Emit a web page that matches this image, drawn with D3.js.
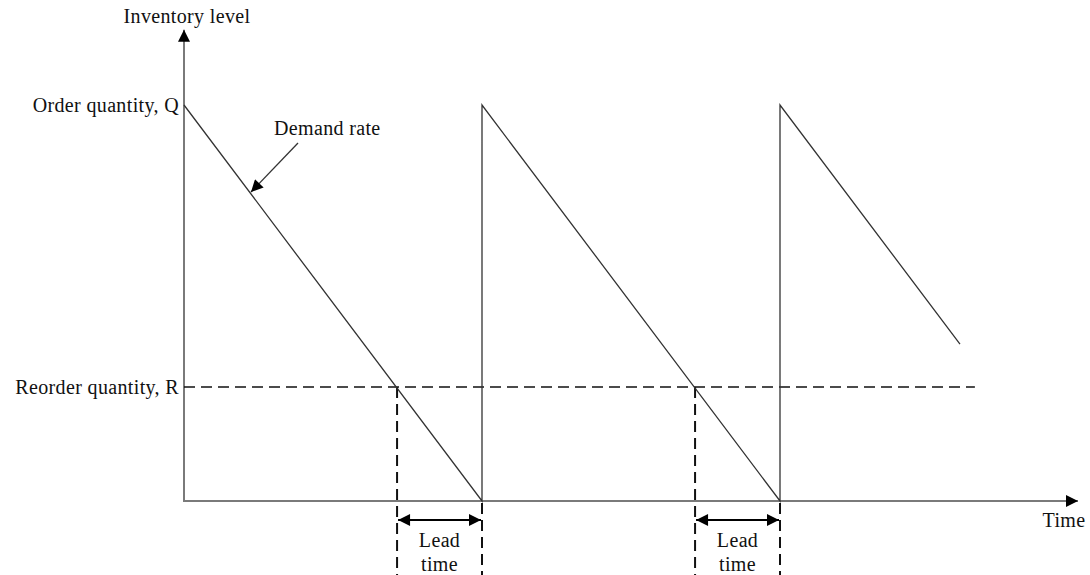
<!DOCTYPE html>
<html><head><meta charset="utf-8">
<script src="https://cdn.jsdelivr.net/npm/d3@7/dist/d3.min.js"></script>
<style>body{margin:0;background:#fff}svg{display:block}text{font-family:"Liberation Serif","Times New Roman",serif;fill:#111;letter-spacing:0.35px}</style>
</head><body><svg id="c" width="1090" height="575"></svg>
<script>
// Data (time in cycle units, level as fraction of Q)
const sawTimes  = [0, 1, 1, 2, 2, 2.604];
const sawLevels = [1, 0, 1, 0, 1, 0.396];
const reorderLevel = 0.288;
const reorderEnd = 2.654;
const leadStarts = [0.715, 1.715];
const leadEnds = [1, 2];
const levelLabels = ["Order quantity, Q", "Reorder quantity, R"];
const levelValues = [1, 0.288];
const axisMaxT = 3.0, axisMaxL = 1.19;

const FS = 20;
const svg = d3.select("#c");
const x = d3.scaleLinear().domain([0, 1]).range([184, 482]);
const y = d3.scaleLinear().domain([0, 1]).range([501, 105]);

const defs = svg.append("defs");
function mk(id, w, h){
  defs.append("marker").attr("id", id).attr("viewBox","0 0 10 10").attr("refX",10).attr("refY",5)
    .attr("markerWidth",w).attr("markerHeight",h).attr("markerUnits","userSpaceOnUse").attr("orient","auto-start-reverse")
    .append("path").attr("d","M0,0L10,5L0,10Z").attr("fill","#000");
}
mk("ax", 14, 12); mk("la", 16, 12); mk("dr", 14, 12);

// axes
svg.append("line").attr("x1", x(0)).attr("y1", y(0)).attr("x2", x(0)).attr("y2", y(axisMaxL))
  .attr("stroke","#7a7a7a").attr("stroke-width",2).attr("marker-end","url(#ax)");
svg.append("line").attr("x1", x(0)-1).attr("y1", y(0)).attr("x2", x(axisMaxT)).attr("y2", y(0))
  .attr("stroke","#7a7a7a").attr("stroke-width",2).attr("marker-end","url(#ax)");

// reorder dashed
svg.append("line").attr("x1", x(0)).attr("y1", y(reorderLevel)).attr("x2", x(reorderEnd)).attr("y2", y(reorderLevel))
  .attr("stroke","#111").attr("stroke-width",1.6).attr("stroke-dasharray","11,6");

// vertical dashed lead lines
leadStarts.forEach(t=>{
  svg.append("line").attr("x1",x(t)).attr("x2",x(t)).attr("y1",y(reorderLevel)).attr("y2",575)
    .attr("stroke","#111").attr("stroke-width",2).attr("stroke-dasharray","11,6");
});
leadEnds.forEach(t=>{
  svg.append("line").attr("x1",x(t)).attr("x2",x(t)).attr("y1",y(0)+2).attr("y2",575)
    .attr("stroke","#111").attr("stroke-width",2).attr("stroke-dasharray","11,6");
});

// sawtooth
const pts = sawTimes.map((t,i)=>[x(t), y(sawLevels[i])]);
svg.append("path").attr("d", d3.line()(pts)).attr("fill","none").attr("stroke","#333").attr("stroke-width",1.3);

// lead time arrows + labels
leadStarts.forEach((t,i)=>{
  const a = x(t)+1, b = x(leadEnds[i])-1, yy = 520;
  svg.append("line").attr("x1",a).attr("x2",b).attr("y1",yy).attr("y2",yy)
    .attr("stroke","#000").attr("stroke-width",2).attr("marker-start","url(#la)").attr("marker-end","url(#la)");
  const cx = (x(t)+x(leadEnds[i]))/2;
  svg.append("text").attr("x",cx).attr("y",547).attr("text-anchor","middle").attr("font-size",FS).text("Lead");
  svg.append("text").attr("x",cx).attr("y",571).attr("text-anchor","middle").attr("font-size",FS).text("time");
});

// level labels
levelLabels.forEach((s,i)=>{
  svg.append("text").attr("x",179).attr("y",y(levelValues[i])+7).attr("text-anchor","end").attr("font-size",FS).text(s);
});
svg.append("text").attr("x",187).attr("y",23).attr("text-anchor","middle").attr("font-size",FS).text("Inventory level");
svg.append("text").attr("x",1064).attr("y",527).attr("text-anchor","middle").attr("font-size",FS).text("Time");

// demand rate annotation
svg.append("text").attr("x",274).attr("y",135).attr("font-size",FS).text("Demand rate");
svg.append("line").attr("x1",298).attr("y1",143).attr("x2",251).attr("y2",192)
  .attr("stroke","#333").attr("stroke-width",1.3).attr("marker-end","url(#dr)");
</script></body></html>
